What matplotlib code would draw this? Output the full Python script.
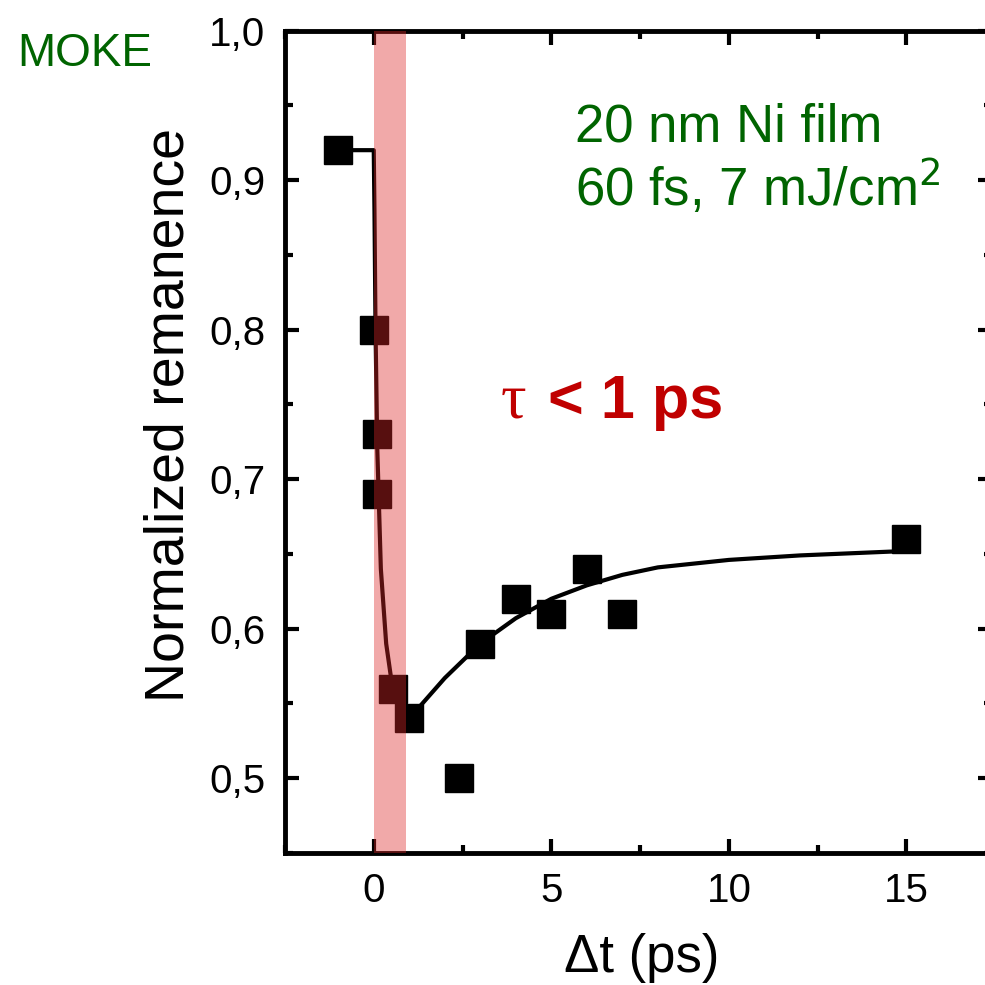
import matplotlib
matplotlib.use('Agg')
import matplotlib.pyplot as plt
from matplotlib.ticker import MultipleLocator, FuncFormatter

plt.rcParams['font.family'] = ['Liberation Sans', 'DejaVu Sans']

# measured points
t_ps = [-1.0, 0.0, 0.1, 0.1, 0.55, 1.0, 2.4, 3.0, 4.0, 5.0, 6.0, 7.0, 15.0]
remanence = [0.92, 0.80, 0.73, 0.69, 0.56, 0.54, 0.50, 0.59, 0.62, 0.61, 0.64, 0.61, 0.66]

# fit curve
fit_t = [-1.0, 0.0, 0.02, 0.05, 0.1, 0.2, 0.35, 0.5, 0.7, 0.9,
         1.0, 2.0, 3.0, 4.0, 5.0, 6.0, 7.0, 8.0, 10.0, 12.0, 15.0]
fit_r = [0.92, 0.92, 0.88, 0.80, 0.72, 0.64, 0.59, 0.565, 0.545, 0.535,
         0.54, 0.567, 0.59, 0.607, 0.62, 0.629, 0.636, 0.641, 0.646, 0.649, 0.652]

# pump pulse window
pulse_window = (0.0, 0.9)

fig = plt.figure(figsize=(9.85, 9.85), dpi=100)
ax = fig.add_axes([0.2893, 0.134, 0.7175, 0.835])

ax.plot(fit_t, fit_r, color='black', lw=3, zorder=2)
ax.plot(t_ps, remanence, 's', color='black', ms=20, zorder=3)
ax.axvspan(pulse_window[0], pulse_window[1], color='#dc2828', alpha=0.4, lw=0, zorder=4)

ax.set_xlim(-2.5, 17.4)
ax.set_ylim(0.45, 1.0)
ax.xaxis.set_major_locator(MultipleLocator(5))
ax.xaxis.set_minor_locator(MultipleLocator(2.5))
ax.yaxis.set_major_locator(MultipleLocator(0.1))
ax.yaxis.set_minor_locator(MultipleLocator(0.05))
ax.yaxis.set_major_formatter(FuncFormatter(lambda v, p: ('%.1f' % v).replace('.', ',') if v > 0.49 else ''))
ax.tick_params(which='both', direction='in', top=True, right=True, width=3, labelsize=29, pad=14)
ax.tick_params(which='major', length=10)
ax.tick_params(which='minor', length=6)
for s in ax.spines.values():
    s.set_linewidth(3.5)

ax.set_xlabel('\u0394t (ps)', fontsize=38, va='center')
ax.xaxis.set_label_coords(0.505, -0.128)
ax.set_ylabel('Normalized remanence', fontsize=40, va='center')
ax.yaxis.set_label_coords(-0.164, 0.533)

fig.text(0.018, 0.968, 'MOKE', fontsize=33, color='#006400', va='top')
ax.text(0.41, 0.882, '20 nm Ni film', transform=ax.transAxes, fontsize=38, color='#006400', va='center')
ax.text(0.41, 0.809, '60 fs, 7 mJ/cm$^2$', transform=ax.transAxes, fontsize=38, color='#006400', va='center')
ax.text(0.305, 0.548, '\u03c4', transform=ax.transAxes, fontsize=46, color='#c00000',
        family=['Liberation Serif', 'DejaVu Serif'], va='center')
ax.text(0.372, 0.548, '< 1 ps', transform=ax.transAxes, fontsize=44, color='#c00000',
        fontweight='bold', va='center')

fig.savefig('out.png', dpi=100)
